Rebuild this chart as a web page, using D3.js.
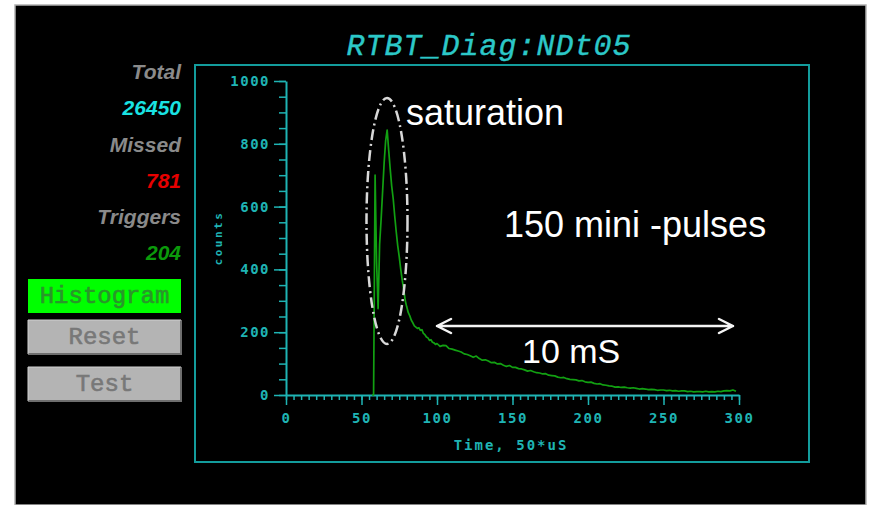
<!DOCTYPE html>
<html>
<head>
<meta charset="utf-8">
<script src="https://cdn.jsdelivr.net/npm/d3@7"></script>
<style>
  html, body { margin: 0; padding: 0; background: #ffffff; }
  svg { display: block; }
</style>
</head>
<body>
<svg id="chart" width="869" height="505"></svg>
<script>
// Histogram of neutron detector counts per 50 µs bin
const title = "RTBT_Diag:NDt05";
const statLabels = ["Total", "Missed", "Triggers"];
const statValues = ["26450", "781", "204"];
const buttons = ["Histogram", "Reset", "Test"];
const xTicks = [0, 50, 100, 150, 200, 250, 300];
const yTicks = [0, 200, 400, 600, 800, 1000];
const xLabel = "Time, 50*uS";
const yLabel = "counts";

// bin index (units of 50 µs)
const binTimes = [
  57, 58, 59, 60, 61, 62, 63, 64, 65, 66, 67, 68, 69, 70, 71, 72, 73, 74, 75, 76,
  77, 78, 79, 80, 81, 82, 83, 84, 85, 86, 87, 88, 89, 90, 91, 92, 93, 94, 95, 96,
  97, 98, 99,
  100, 102, 104, 106, 108, 110, 112, 114, 116, 118, 120, 122, 124, 126, 128, 130,
  132, 134, 136, 138, 140, 142, 144, 146, 148, 150, 152, 154, 156, 158, 160, 162,
  164, 166, 168, 170, 172, 174, 176, 178, 180, 182, 184, 186, 188, 190, 192, 194,
  196, 198, 200, 202, 204, 206, 208, 210, 212, 214, 216, 218, 220, 222, 224, 226,
  228, 230, 232, 234, 236, 238, 240, 242, 244, 246, 248, 250, 252, 254, 256, 258,
  260, 262, 264, 266, 268, 270, 272, 274, 276, 278, 280, 282, 284, 286, 288, 290,
  292, 294, 296, 298
];
// counts in each bin
const binCounts = [
  0, 0, 700, 420, 275, 480, 560, 650, 740, 810, 844, 780, 720, 665, 625, 570, 520, 475, 440, 400,
  365, 335, 300, 280, 262, 252, 238, 230, 220, 216, 212, 214, 206, 208, 196, 192, 185, 182, 174, 176,
  168, 166, 161,
  164, 155, 158, 157, 148, 146, 143, 140, 137, 131, 129, 125, 120, 124, 116, 111,
  112, 108, 103, 104, 99, 100, 95, 91, 94, 88, 88, 84, 83, 80, 76, 78,
  74, 71, 70, 67, 68, 63, 62, 61, 57, 55, 56, 52, 50, 49, 48, 45,
  46, 42, 40, 41, 37, 35, 36, 32, 31, 29, 28, 25, 26, 24, 25, 23,
  22, 23, 21, 19, 20, 19, 17, 18, 17, 15, 16, 16, 14, 15, 13, 14,
  12, 13, 13, 11, 12, 10, 11, 11, 10, 12, 10, 11, 10, 12, 11, 13,
  14, 13, 16, 12
];

const svg = d3.select("#chart");
const teal = "#1fb4b4";
const frameTeal = "#139c9c";

// dark panel
svg.append("rect").attr("x", 15).attr("y", 5).attr("width", 851).attr("height", 500)
  .attr("fill", "#000").attr("stroke", "#b0b0b0").attr("stroke-width", 1.5);

// title
svg.append("text").attr("x", 489).attr("y", 55).attr("text-anchor", "middle")
  .attr("font-family", "Liberation Mono, Courier New, monospace").attr("font-style", "italic")
  .attr("font-size", 30).attr("letter-spacing", 1).attr("fill", "#2cc8c8")
  .attr("stroke", "#2cc8c8").attr("stroke-width", 0.4).text(title);

// stat readouts
const statColors = ["#19e3e3", "#e60000", "#0b9a0b"];
statLabels.forEach((lab, i) => {
  svg.append("text").attr("x", 181).attr("y", 79 + i * 72.5).attr("text-anchor", "end")
    .attr("font-family", "Liberation Sans, Arial, sans-serif").attr("font-style", "italic")
    .attr("font-weight", "bold").attr("font-size", 21).attr("fill", "#8a8a8a").text(lab);
  svg.append("text").attr("x", 181).attr("y", 115 + i * 72.5).attr("text-anchor", "end")
    .attr("font-family", "Liberation Sans, Arial, sans-serif").attr("font-style", "italic")
    .attr("font-weight", "bold").attr("font-size", 21).attr("fill", statColors[i]).text(statValues[i]);
});

// buttons
const btnTop = [279, 320, 367];
buttons.forEach((b, i) => {
  const active = i === 0;
  const g = svg.append("g").attr("transform", `translate(28,${btnTop[i]})`);
  g.append("rect").attr("width", 153).attr("height", 34)
    .attr("fill", active ? "#00ff00" : "#b4b4b4");
  if (!active) {
    g.append("path").attr("d", "M0,34 H153 V0").attr("fill", "none")
      .attr("stroke", "#6e6e6e").attr("stroke-width", 2);
    g.append("path").attr("d", "M0,34 V0 H153").attr("fill", "none")
      .attr("stroke", "#d0d0d0").attr("stroke-width", 1);
  }
  const col = active ? "#2a962a" : "#787878";
  g.append("text").attr("x", 76.5).attr("y", 24).attr("text-anchor", "middle")
    .attr("font-family", "Liberation Mono, Courier New, monospace")
    .attr("font-size", 24).attr("fill", col).attr("stroke", col).attr("stroke-width", 0.6).text(b);
});

// plot frame
svg.append("rect").attr("x", 195).attr("y", 65).attr("width", 614).attr("height", 397)
  .attr("fill", "none").attr("stroke", frameTeal).attr("stroke-width", 2);

const x = d3.scaleLinear().domain([0, 300]).range([286, 739]);
const y = d3.scaleLinear().domain([0, 1000]).range([395, 81]);

const tickFont = "DejaVu Sans Mono, Liberation Mono, monospace";

// minor ticks
svg.append("g").attr("transform", "translate(0,395)")
  .call(d3.axisBottom(x).tickValues(d3.range(0, 301, 5)).tickSize(5).tickFormat(""))
  .call(g => g.select(".domain").remove())
  .call(g => g.selectAll("line").attr("stroke", teal).attr("stroke-width", 1.5));
svg.append("g").attr("transform", "translate(286,0)")
  .call(d3.axisLeft(y).tickValues(d3.range(0, 1001, 50)).tickSize(7).tickFormat(""))
  .call(g => g.select(".domain").remove())
  .call(g => g.selectAll("line").attr("stroke", teal).attr("stroke-width", 1.5));

// major ticks + labels
const xAxis = svg.append("g").attr("transform", "translate(0,395)")
  .call(d3.axisBottom(x).tickValues(xTicks).tickFormat(d3.format("d"))
    .tickSize(10).tickSizeOuter(0).tickPadding(8));
const yAxis = svg.append("g").attr("transform", "translate(286,0)")
  .call(d3.axisLeft(y).tickValues(yTicks).tickFormat(d3.format("d"))
    .tickSize(12).tickSizeOuter(0).tickPadding(4));
[xAxis, yAxis].forEach(a => {
  a.select(".domain").attr("stroke", teal).attr("stroke-width", 2);
  a.selectAll(".tick line").attr("stroke", teal).attr("stroke-width", 1.5);
  a.selectAll(".tick text").attr("fill", teal).attr("font-family", tickFont)
    .attr("font-weight", "bold").attr("font-size", 14).attr("letter-spacing", 1.5);
});

// axis titles
svg.append("text").attr("x", 511).attr("y", 450).attr("text-anchor", "middle")
  .attr("font-family", tickFont).attr("font-weight", "bold").attr("font-size", 14)
  .attr("letter-spacing", 2).attr("fill", teal).text(xLabel);
svg.append("text").attr("transform", "translate(222,238) rotate(-90)").attr("text-anchor", "middle")
  .attr("font-family", tickFont).attr("font-weight", "bold").attr("font-size", 11)
  .attr("letter-spacing", 2.5).attr("fill", teal).text(yLabel);

// histogram trace
const data = binTimes.map((t, i) => [t, binCounts[i]]);
svg.append("path").datum(data)
  .attr("d", d3.line().x(d => x(d[0])).y(d => y(d[1])))
  .attr("fill", "none").attr("stroke", "#12a012").attr("stroke-width", 1.7)
  .attr("stroke-linejoin", "round");

// saturation ellipse
svg.append("ellipse").attr("cx", 387).attr("cy", 221).attr("rx", 20.5).attr("ry", 123)
  .attr("fill", "none").attr("stroke", "#d8d8d8").attr("stroke-width", 2.5)
  .attr("stroke-dasharray", "11,4,2,4");

// annotations
const annoFont = "Liberation Sans, Arial, sans-serif";
svg.append("text").attr("x", 406).attr("y", 125).attr("font-family", annoFont)
  .attr("font-size", 36).attr("fill", "#fff").text("saturation");
svg.append("text").attr("x", 504).attr("y", 237).attr("font-family", annoFont)
  .attr("font-size", 36).attr("fill", "#fff").text("150 mini -pulses");
svg.append("text").attr("x", 522).attr("y", 363).attr("font-family", annoFont)
  .attr("font-size", 34).attr("fill", "#fff").text("10 mS");

// double-headed span arrow
const ay = 326, ax0 = 437, ax1 = 733;
svg.append("path")
  .attr("d", `M${ax0},${ay} H${ax1} M${ax0 + 14},${ay - 7} L${ax0},${ay} L${ax0 + 14},${ay + 7} M${ax1 - 14},${ay - 7} L${ax1},${ay} L${ax1 - 14},${ay + 7}`)
  .attr("fill", "none").attr("stroke", "#f4f4f4").attr("stroke-width", 2.5)
  .attr("stroke-linejoin", "round").attr("stroke-linecap", "round");
</script>
</body>
</html>
